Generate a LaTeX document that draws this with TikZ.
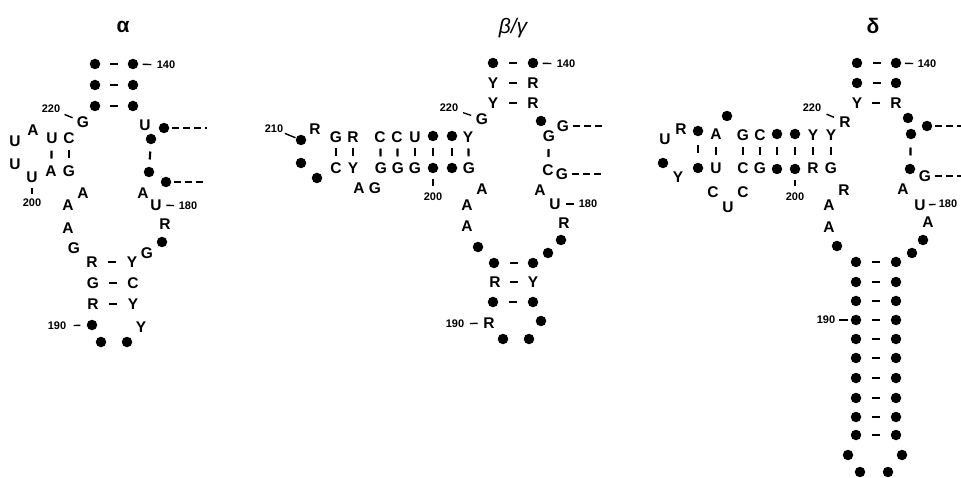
\documentclass[tikz,border=0pt]{standalone}
\usepackage{fontspec}
\setmainfont{Liberation Sans}
\usepackage{tikz}

\begin{document}
\begin{tikzpicture}[x=1pt,y=-1pt,
	dot/.style={circle,inner sep=0pt,minimum size=10.5pt,fill,name=#1},
	nt/.style={inner sep=1pt,font=\bfseries\fontsize{15.5}{15.5}\selectfont,name=#1},
	num/.style={inner sep=1pt,font=\bfseries\fontsize{11}{11}\selectfont,name=#1},
	ttl/.style={inner sep=1pt,font=\fontsize{21}{21}\selectfont},
	bp/.style={sloped,fill,inner sep=0pt,minimum width=8pt,minimum height=2.2pt},
	tick/.style={line width=1.4pt,shorten <=#1,shorten >=#1},
	tick/.default=4pt,
	ext/.style={line width=1.7pt,dash pattern=on 7pt off 4pt,shorten <=3pt}]
				\useasboundingbox (0,0) rectangle (961,478);
				% alpha
				\node[ttl] (atitle) at (123,27) {\bfseries α};
				\node[dot=aL1] at (95,64) {};
				\node[dot=aR1] at (133,64) {};
				\node[dot=aL2] at (95,85) {};
				\node[dot=aR2] at (133,85) {};
				\node[dot=aL3] at (95,106) {};
				\node[dot=aR3] at (133,106) {};
				\node[num=a140] at (166,65) {140};
				\node[nt=aG] at (83,122) {G};
				\node[num=a220] at (51,109) {220};
				\node[nt=aU1] at (15,141) {U};
				\node[nt=aA1] at (33,130) {A};
				\node[nt=aU2] at (52,138) {U};
				\node[nt=aC2] at (69,138) {C};
				\node[nt=aA2] at (51,171) {A};
				\node[nt=aG2] at (69,171) {G};
				\node[nt=aU3] at (15,164) {U};
				\node[nt=aU4] at (32,177) {U};
				\node[num=a200] at (32,203) {200};
				\node[nt=aA3] at (83,193) {A};
				\node[nt=aA4] at (68,205) {A};
				\node[nt=aA5] at (68,228) {A};
				\node[nt=aG3] at (74,248) {G};
				\node[nt=aL4] at (92,262) {R};
				\node[nt=aR4] at (132,262) {Y};
				\node[nt=aL5] at (93,283) {G};
				\node[nt=aR5] at (133,283) {C};
				\node[nt=aL6] at (93,304) {R};
				\node[nt=aR6] at (133,304) {Y};
				\node[dot=aN1] at (92,325) {};
				\node[num=a190] at (57,326) {190};
				\node[nt=aY7] at (141,327) {Y};
				\node[dot=aN2] at (101,342) {};
				\node[dot=aN3] at (127,342) {};
				\node[nt=aU8] at (145,125) {U};
				\node[dot=aP1] at (164,128) {};
				\node[dot=aP2] at (151,139) {};
				\node[dot=aP3] at (149,172) {};
				\node[dot=aP4] at (166,182) {};
				\node[nt=aA8] at (143,193) {A};
				\node[nt=aU9] at (156,205) {U};
				\node[num=a180] at (188,206) {180};
				\node[nt=aR9] at (165,224) {R};
				\node[dot=aP5] at (162,242) {};
				\node[nt=aG9] at (147,253) {G};
				\coordinate (aE1) at (207,128);
				\coordinate (aE2) at (207,182);
				\path (aL1) -- node[bp] {} (aR1);
				\path (aL2) -- node[bp] {} (aR2);
				\path (aL3) -- node[bp] {} (aR3);
				\path (aU2) -- node[bp] {} (aA2);
				\path (aC2) -- node[bp] {} (aG2);
				\path (aL4) -- node[bp] {} (aR4);
				\path (aL5) -- node[bp] {} (aR5);
				\path (aL6) -- node[bp] {} (aR6);
				\path (aP2) -- node[bp] {} (aP3);
				\draw[tick=4.2pt] (aR1) -- (a140);
				\draw[tick=3.4pt] (a220) -- (aG);
				\draw[tick=4pt] (aU4) -- (a200);
				\draw[tick=6.2pt] (a190) -- (aN1);
				\draw[tick=3.5pt] (aU9) -- (a180);
				\draw[ext] (aP1) -- (aE1);
				\draw[ext] (aP4) -- (aE2);
				% beta/gamma
				\node[ttl] (btitle) at (513,28) {\itshape β/γ};
				\node[dot=bL1] at (493,63) {};
				\node[dot=bR1] at (533,63) {};
				\node[num=b140] at (566,64) {140};
				\node[nt=bL2] at (493,83) {Y};
				\node[nt=bR2] at (533,83) {R};
				\node[nt=bL3] at (493,103) {Y};
				\node[nt=bR3] at (533,103) {R};
				\node[nt=bG] at (482,119) {G};
				\node[num=b220] at (449,108) {220};
				\node[nt=bT1] at (468,137) {Y};
				\node[dot=bT2] at (452,136) {};
				\node[dot=bT3] at (433,136) {};
				\node[nt=bT4] at (415,137) {U};
				\node[nt=bT5] at (397,137) {C};
				\node[nt=bT6] at (380,137) {C};
				\node[nt=bT7] at (353,137) {R};
				\node[nt=bT8] at (336,137) {G};
				\node[nt=bT9] at (315,129) {R};
				\node[dot=bT10] at (301,140) {};
				\node[num=b210] at (274,129) {210};
				\node[dot=bB10] at (301,163) {};
				\node[dot=bB9] at (317,178) {};
				\node[nt=bB8] at (336,168) {C};
				\node[nt=bB7] at (353,168) {Y};
				\node[nt=bA1] at (359,188) {A};
				\node[nt=bA2] at (375,188) {G};
				\node[nt=bB6] at (381,168) {G};
				\node[nt=bB5] at (398,168) {G};
				\node[nt=bB4] at (415,168) {G};
				\node[dot=bB3] at (433,168) {};
				\node[dot=bB2] at (452,168) {};
				\node[nt=bB1] at (469,168) {G};
				\node[num=b200] at (433,197) {200};
				\node[nt=bA3] at (482,189) {A};
				\node[nt=bA4] at (467,205) {A};
				\node[nt=bA5] at (467,226) {A};
				\node[dot=bN1] at (478,247) {};
				\node[dot=bL4] at (494,263) {};
				\node[dot=bR4] at (533,263) {};
				\node[nt=bL5] at (495,282) {R};
				\node[nt=bR5] at (533,282) {Y};
				\node[dot=bL6] at (493,302) {};
				\node[dot=bR6] at (533,302) {};
				\node[nt=bL7] at (489,323) {R};
				\node[num=b190] at (455,324) {190};
				\node[dot=bR7] at (541,321) {};
				\node[dot=bN2] at (503,339) {};
				\node[dot=bN3] at (529,339) {};
				\node[dot=bP1] at (541,121) {};
				\node[nt=bG1] at (563,126) {G};
				\node[nt=bG2] at (549,136) {G};
				\node[nt=bC2] at (548,170) {C};
				\node[nt=bG3] at (562,174) {G};
				\node[nt=bA6] at (540,190) {A};
				\node[nt=bU6] at (555,204) {U};
				\node[num=b180] at (588,204) {180};
				\node[nt=bR8] at (564,223) {R};
				\node[dot=bP2] at (561,240) {};
				\node[dot=bP3] at (548,253) {};
				\coordinate (bE1) at (603,126);
				\coordinate (bE2) at (603,174);
				\path (bL1) -- node[bp] {} (bR1);
				\path (bL2) -- node[bp] {} (bR2);
				\path (bL3) -- node[bp] {} (bR3);
				\path (bT1) -- node[bp] {} (bB1);
				\path (bT2) -- node[bp] {} (bB2);
				\path (bT3) -- node[bp] {} (bB3);
				\path (bT4) -- node[bp] {} (bB4);
				\path (bT5) -- node[bp] {} (bB5);
				\path (bT6) -- node[bp] {} (bB6);
				\path (bT7) -- node[bp] {} (bB7);
				\path (bT8) -- node[bp] {} (bB8);
				\path (bG2) -- node[bp] {} (bC2);
				\path (bL4) -- node[bp] {} (bR4);
				\path (bL5) -- node[bp] {} (bR5);
				\path (bL6) -- node[bp] {} (bR6);
				\draw[tick=4.2pt] (bR1) -- (b140);
				\draw[tick=3.8pt] (b220) -- (bG);
				\draw[tick=0.5pt] (b210) -- (bT10);
				\draw[tick=6pt] (bB3) -- (b200);
				\draw[tick=4.5pt] (b190) -- (bL7);
				\draw[tick=4pt] (bU6) -- (b180);
				\draw[ext] (bG1) -- (bE1);
				\draw[ext] (bG3) -- (bE2);
				% delta
				\node[ttl] (dtitle) at (873,26) {\bfseries δ};
				\node[dot=dL1] at (857,63) {};
				\node[dot=dR1] at (896,63) {};
				\node[num=d140] at (927,64) {140};
				\node[dot=dL2] at (857,83) {};
				\node[dot=dR2] at (896,83) {};
				\node[nt=dL3] at (857,103) {Y};
				\node[nt=dR3] at (896,103) {R};
				\node[nt=dR] at (845,122) {R};
				\node[num=d220] at (812,108) {220};
				\node[nt=dT1] at (831,135) {Y};
				\node[nt=dT2] at (813,135) {Y};
				\node[dot=dT3] at (795,134) {};
				\node[dot=dT4] at (777,134) {};
				\node[nt=dT5] at (760,135) {C};
				\node[nt=dT6] at (743,135) {G};
				\node[dot=dK] at (727,116) {};
				\node[nt=dT7] at (716,134) {A};
				\node[dot=dT8] at (698,131) {};
				\node[nt=dH1] at (681,129) {R};
				\node[nt=dH2] at (665,139) {U};
				\node[dot=dH3] at (663,163) {};
				\node[nt=dH4] at (678,177) {Y};
				\node[dot=dB8] at (698,168) {};
				\node[nt=dB7] at (716,168) {U};
				\node[nt=dC1] at (713,192) {C};
				\node[nt=dU1] at (728,207) {U};
				\node[nt=dC2] at (743,192) {C};
				\node[nt=dB6] at (743,168) {C};
				\node[nt=dB5] at (760,168) {G};
				\node[dot=dB4] at (777,169) {};
				\node[dot=dB3] at (795,169) {};
				\node[nt=dB2] at (813,168) {R};
				\node[nt=dB1] at (831,168) {G};
				\node[num=d200] at (795,197) {200};
				\node[nt=dA1] at (844,190) {R};
				\node[nt=dA2] at (829,205) {A};
				\node[nt=dA3] at (829,227) {A};
				\node[dot=dN1] at (837,246) {};
				\node[dot=dS1l] at (856,262) {};
				\node[dot=dS1r] at (896,262) {};
				\node[dot=dS2l] at (856,282) {};
				\node[dot=dS2r] at (896,282) {};
				\node[dot=dS3l] at (856,301) {};
				\node[dot=dS3r] at (896,301) {};
				\node[dot=dS4l] at (856,320) {};
				\node[dot=dS4r] at (896,320) {};
				\node[dot=dS5l] at (856,339) {};
				\node[dot=dS5r] at (896,339) {};
				\node[dot=dS6l] at (856,358) {};
				\node[dot=dS6r] at (896,358) {};
				\node[dot=dS7l] at (856,378) {};
				\node[dot=dS7r] at (896,378) {};
				\node[dot=dS8l] at (856,398) {};
				\node[dot=dS8r] at (896,398) {};
				\node[dot=dS9l] at (856,417) {};
				\node[dot=dS9r] at (896,417) {};
				\node[dot=dS10l] at (856,435) {};
				\node[dot=dS10r] at (896,435) {};
				\node[num=d190] at (826,320) {190};
				\node[dot=dN2] at (848,455) {};
				\node[dot=dN3] at (902,455) {};
				\node[dot=dN4] at (860,472) {};
				\node[dot=dN5] at (888,472) {};
				\node[dot=dP1] at (908,118) {};
				\node[dot=dP2] at (927,126) {};
				\node[dot=dP3] at (911,134) {};
				\node[dot=dP4] at (910,169) {};
				\node[nt=dG1] at (925,176) {G};
				\node[nt=dA4] at (903,189) {A};
				\node[nt=dU4] at (920,205) {U};
				\node[num=d180] at (948,204) {180};
				\node[nt=dA5] at (928,222) {A};
				\node[dot=dP5] at (923,240) {};
				\node[dot=dP6] at (912,253) {};
				\coordinate (dE1) at (961,126);
				\coordinate (dE2) at (961,176);
				\path (dL1) -- node[bp] {} (dR1);
				\path (dL2) -- node[bp] {} (dR2);
				\path (dL3) -- node[bp] {} (dR3);
				\path (dT1) -- node[bp] {} (dB1);
				\path (dT2) -- node[bp] {} (dB2);
				\path (dT3) -- node[bp] {} (dB3);
				\path (dT4) -- node[bp] {} (dB4);
				\path (dT5) -- node[bp] {} (dB5);
				\path (dT6) -- node[bp] {} (dB6);
				\path (dT7) -- node[bp] {} (dB7);
				\path (dT8) -- node[bp] {} (dB8);
				\path (dP3) -- node[bp] {} (dP4);
				\path (dS1l) -- node[bp] {} (dS1r);
				\path (dS2l) -- node[bp] {} (dS2r);
				\path (dS3l) -- node[bp] {} (dS3r);
				\path (dS4l) -- node[bp] {} (dS4r);
				\path (dS5l) -- node[bp] {} (dS5r);
				\path (dS6l) -- node[bp] {} (dS6r);
				\path (dS7l) -- node[bp] {} (dS7r);
				\path (dS8l) -- node[bp] {} (dS8r);
				\path (dS9l) -- node[bp] {} (dS9r);
				\path (dS10l) -- node[bp] {} (dS10r);
				\draw[tick=3.4pt] (dR1) -- (d140);
				\draw[tick=4.5pt] (d220) -- (dR);
				\draw[tick=6pt] (dB3) -- (d200);
				\draw[tick=3pt] (d190) -- (dS4l);
				\draw[tick=2pt] (dU4) -- (d180);
				\draw[ext] (dP2) -- (dE1);
				\draw[ext] (dG1) -- (dE2);
			\end{tikzpicture}
\end{document}
